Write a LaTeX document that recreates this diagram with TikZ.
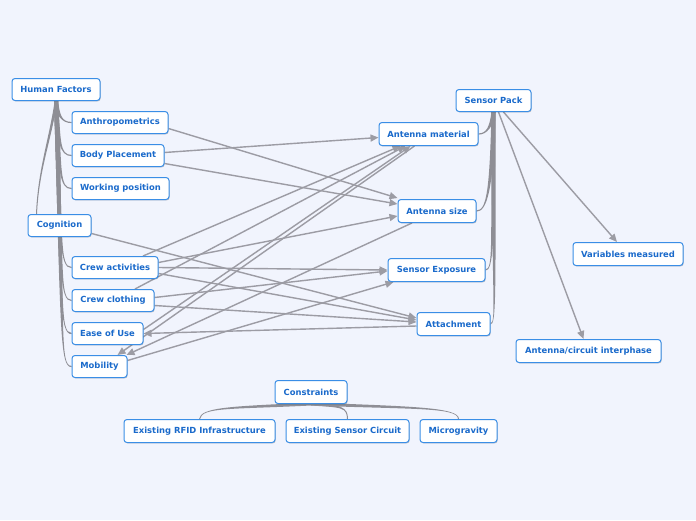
\documentclass[tikz,border=0pt]{standalone}
\usepackage{fontspec}
\setmainfont{DejaVu Sans}
\usetikzlibrary{arrows.meta,shadows,calc}
\definecolor{bgc}{HTML}{F1F4FD}
\definecolor{boxblue}{HTML}{3A8EE6}
\definecolor{txtblue}{HTML}{1A6ACB}
\definecolor{linegray}{HTML}{9C9CA4}
\definecolor{branchgray}{HTML}{8E8E95}
\pgfdeclarelayer{bglayer}
\pgfdeclarelayer{edgelayer}
\pgfsetlayers{bglayer,edgelayer,main}
% tapered branch: #1 start, #2 end, #3 ctrl rel start, #4 ctrl rel end, #5 start half-width vector, #6 end half-width vector
\newcommand\taperline[6]{\fill[branchfill] ($(#1)-#5$) .. controls +#3 and +#4 .. ($(#2)-#6$) -- ($(#2)+#6$) .. controls +#4 and +#3 .. ($(#1)+#5$) -- cycle;}
\begin{document}
\begin{tikzpicture}[x=1pt,y=-1pt,
  topic/.style={draw=boxblue, fill=white, line width=1pt, rounded corners=3pt,
    text=txtblue, font=\fontsize{8.4}{10}\selectfont\bfseries, minimum height=22pt,
    inner sep=0pt, drop shadow={shadow xshift=0.7pt, shadow yshift=-0.9pt, opacity=0.22, fill=black}},
  rel/.style={draw=linegray, line width=1.4pt, -{Triangle[length=8pt,width=7pt]}},
  branchfill/.style={fill=branchgray}]
\begin{pgfonlayer}{bglayer}
\fill[bgc] (0,0) rectangle (696,520);
\end{pgfonlayer}
\useasboundingbox (0,0) rectangle (696,520);

% Human factors side
\node[topic, minimum width=88pt] (hf) at (56,89.5) {Human Factors};
\node[topic, minimum width=96pt] (anth) at (120,122.5) {Anthropometrics};
\node[topic, minimum width=92pt] (bp) at (118,155.5) {Body Placement};
\node[topic, minimum width=97pt] (wp) at (120.5,188.5) {Working position};
\node[topic, minimum width=63pt] (cog) at (59.5,225.5) {Cognition};
\node[topic, minimum width=86pt] (ca) at (115,267.5) {Crew activities};
\node[topic, minimum width=82pt] (cc) at (113,300.5) {Crew clothing};
\node[topic, minimum width=71pt] (eou) at (107.5,333.5) {Ease of Use};
\node[topic, minimum width=55pt] (mob) at (99.5,366.5) {Mobility};

% Sensor pack side
\node[topic, minimum width=75pt] (sp) at (493.5,100.5) {Sensor Pack};
\node[topic, minimum width=99pt, minimum height=23pt] (am) at (428.5,134) {Antenna material};
\node[topic, minimum width=78pt, minimum height=23pt] (as) at (437,211) {Antenna size};
\node[topic, minimum width=97pt, minimum height=23pt] (se) at (436.5,270) {Sensor Exposure};
\node[topic, minimum width=73pt, minimum height=23pt] (att) at (453.5,324) {Attachment};
\node[topic, minimum width=110pt, minimum height=23pt] (vm) at (628,254) {Variables measured};
\node[topic, minimum width=145pt, minimum height=23pt] (aci) at (588.5,351) {Antenna/circuit interphase};

% Constraints
\node[topic, minimum width=72pt, minimum height=23pt] (con) at (311,392) {Constraints};
\node[topic, minimum width=151pt, minimum height=23pt] (rfid) at (199.5,431) {Existing RFID Infrastructure};
\node[topic, minimum width=123pt, minimum height=23pt] (esc) at (347.5,431) {Existing Sensor Circuit};
\node[topic, minimum width=77pt, minimum height=23pt] (mg) at (458.5,431) {Microgravity};

\begin{pgfonlayer}{edgelayer}
% tree branches: Human Factors
\taperline{hf.south}{anth.west}{(2,14)}{(-10,0)}{(2,0)}{(0,-0.6)}
\taperline{hf.south}{bp.west}{(3,40)}{(-12,0)}{(2,0)}{(0,-0.6)}
\taperline{hf.south}{wp.west}{(4,70)}{(-12,0)}{(2,0)}{(0,-0.6)}
\taperline{hf.south}{ca.west}{(5,140)}{(-12,0)}{(2,0)}{(0,-0.6)}
\taperline{hf.south}{cc.west}{(6,170)}{(-12,0)}{(2,0)}{(0,-0.6)}
\taperline{hf.south}{eou.west}{(6,200)}{(-12,0)}{(2,0)}{(0,-0.6)}
\taperline{hf.south}{mob.west}{(7,230)}{(-12,0)}{(2,0)}{(0,-0.6)}
\taperline{hf.south}{$(cog.north)+(-23,0)$}{(-6,40)}{(2,-45)}{(1.3,0)}{(0.5,0)}
% tree branches: Sensor Pack
\taperline{sp.south}{am.east}{(-2,15)}{(8,0)}{(2,0)}{(0,0.6)}
\taperline{sp.south}{as.east}{(-2,80)}{(10,0)}{(2,0)}{(0,0.6)}
\taperline{sp.south}{se.east}{(-1,130)}{(8,0)}{(2,0)}{(0,0.6)}
\taperline{sp.south}{att.east}{(0,180)}{(6,0)}{(2,0)}{(0,0.6)}
% tree branches: Constraints
\taperline{con.south}{rfid.north}{(-80,4)}{(2,-12)}{(0,1.5)}{(0.5,0)}
\taperline{con.south}{esc.north}{(30,2)}{(0,-12)}{(0,1.5)}{(-0.5,0)}
\taperline{con.south}{mg.north}{(100,4)}{(0,-12)}{(0,1.5)}{(-0.5,0)}

% relationships
\draw[rel] ([yshift=-6pt]anth.east) -- ([yshift=13pt]as.west);
\draw[rel] ([yshift=3pt]bp.east) -- ([yshift=-3.5pt]am.west);
\draw[rel] ([yshift=-8pt]bp.east) -- ([yshift=7pt]as.west);
\draw[rel] ([yshift=-8pt]cog.east) -- ([yshift=6pt]att.west);
\draw[rel] ([xshift=28pt]ca.north) -- ([xshift=-28pt]am.south);
\draw[rel] ([yshift=5pt]ca.east) -- ([yshift=-5pt]as.west);
\draw[rel] (ca.east) -- ([yshift=0pt]se.west);
\draw[rel] ([yshift=-6pt]ca.east) -- ([yshift=4pt]att.west);
\draw[rel] ([xshift=22pt]cc.north) -- ([xshift=-23pt]am.south);
\draw[rel] ([yshift=3pt]cc.east) -- ([yshift=-1pt]se.west);
\draw[rel] ([yshift=-5pt]cc.east) -- ([yshift=2pt]att.west);
\draw[rel] ([yshift=-2pt]att.west) -- (eou.east);
\draw[rel] ([yshift=4pt]eou.east) -- ([xshift=-18pt]am.south);
\draw[rel] ([xshift=-14pt]am.south) -- ([xshift=18pt]mob.north);
\draw[rel] ([xshift=-25pt]as.south) -- ([xshift=27pt]mob.north);
\draw[rel] ([yshift=6pt]mob.east) -- ([xshift=-43pt]se.south);
\draw[rel] ([xshift=10pt]sp.south) -- ([xshift=-11pt]vm.north);
\draw[rel] ([xshift=5pt]sp.south) -- ([xshift=-5pt]aci.north);
\end{pgfonlayer}
\end{tikzpicture}
\end{document}
